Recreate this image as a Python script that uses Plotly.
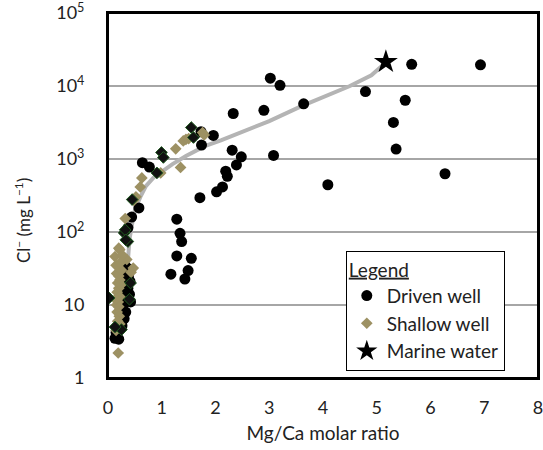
import plotly.graph_objects as go

# Driven well (black circles)
driven_x = [2.33, 2.90, 1.73, 1.96, 1.74, 2.31, 2.48, 3.08, 2.39, 2.19, 2.22, 2.13, 2.02, 1.71,
            1.28, 1.34, 1.37, 1.28, 1.55, 1.17, 1.49, 1.43, 3.02, 3.20, 3.64, 4.79, 5.65, 5.53,
            5.31, 5.36, 4.09, 6.93, 6.27, 0.64, 0.77, 0.575, 0.44, 0.37,
            0.13, 0.20, 0.15, 0.22, 0.26, 0.30, 0.33, 0.28, 0.35, 0.40, 0.37, 0.41, 0.32, 0.38,
            0.30, 0.36, 0.25, 0.42, 0.30, 0.35]
driven_y = [4200, 4650, 2370, 2100, 1550, 1320, 1070, 1120, 830, 680, 580, 415, 355, 295,
            150, 96, 74, 47, 43.6, 26.4, 29.6, 22.7, 12800, 10200, 5700, 8400, 19800, 6380,
            3170, 1370, 444, 19500, 628, 890, 775, 214, 160, 114,
            3.5, 3.4, 4.2, 4.6, 5.2, 6.5, 8, 10, 12, 14, 17, 21, 19, 25,
            28, 32, 16, 11, 36, 22]

# Shallow well (khaki diamonds)
shallow_x = [1.26, 1.35, 1.45, 1.40, 1.76, 0.63, 0.60, 0.52, 0.48, 0.32, 0.20, 0.98, 1.50, 1.79,
             0.22, 0.13, 0.35, 0.47, 0.16, 0.19, 0.15, 0.20, 0.22, 0.18, 0.20, 0.17, 0.22, 0.19,
             0.20, 0.17, 0.21, 0.18, 0.22, 0.16, 0.24, 0.25, 0.15, 0.27, 0.43, 0.14, 0.23]
shallow_y = [1380, 767, 1860, 1770, 2300, 550, 415, 303, 272, 153, 60, 645, 1900, 2140,
             57, 46, 42, 32, 27, 2.2, 4.5, 25, 22, 20, 17, 15, 13, 11,
             9.5, 8, 7, 6, 5.5, 10, 19, 30, 35, 48, 28, 12, 38]

# Dark diamonds (unlabelled)
dark_x = [1.55, 0.995, 1.03, 0.91, 1.59, 0.30, 0.37, 0.45, 0.32, 0.33, 0.02, 0.25, 0.40, 0.42, 0.13]
dark_y = [2700, 1230, 1050, 645, 1970, 97, 74, 278, 107, 78, 12.5, 4.6, 12, 20, 5]

# Marine water
marine_x = [5.17]
marine_y = [21400]

# Mixing curve
curve_x = [0.28, 0.33, 0.37, 0.40, 0.45, 0.50, 0.60, 0.70, 0.85, 1.00, 1.20, 1.45, 1.80, 2.10,
           2.60, 3.00, 3.60, 4.00, 4.50, 4.90, 5.17]
curve_y = [5, 15, 40, 80, 130, 200, 300, 420, 560, 680, 850, 1100, 1500, 1800,
           2500, 3300, 5300, 7000, 10000, 14000, 21000]

ytick_vals = [1, 10, 100, 1000, 10000, 100000]
ytick_text = ["1", "10", "10<sup>2</sup>", "10<sup>3</sup>", "10<sup>4</sup>", "10<sup>5</sup>"]
xtick_vals = [0, 1, 2, 3, 4, 5, 6, 7, 8]

FONT = "Lato, 'Open Sans', sans-serif"

fig = go.Figure()
fig.add_trace(go.Scatter(x=curve_x, y=curve_y, mode="lines", line=dict(color="#b4b4b4", width=4),
                         showlegend=False, hoverinfo="skip"))
fig.add_trace(go.Scatter(x=driven_x, y=driven_y, mode="markers", name="Driven well",
                         marker=dict(symbol="circle", size=11, color="black")))
fig.add_trace(go.Scatter(x=shallow_x, y=shallow_y, mode="markers", name="Shallow well",
                         marker=dict(symbol="diamond", size=9, color="#9d9163")))
fig.add_trace(go.Scatter(x=dark_x, y=dark_y, mode="markers", showlegend=False,
                         marker=dict(symbol="diamond", size=9, color="#111111",
                                     line=dict(color="#1f5a1f", width=1))))
fig.add_trace(go.Scatter(x=marine_x, y=marine_y, mode="markers", name="Marine water",
                         marker=dict(symbol="star", size=18, color="black")))

fig.update_layout(
    width=543, height=450,
    margin=dict(l=108, r=5, t=13, b=72),
    paper_bgcolor="white", plot_bgcolor="white",
    font=dict(family=FONT, size=18, color="#222"),
    legend=dict(
        title=dict(text="<u>Legend</u>", font=dict(size=19)),
        x=0.553, y=0.348, xanchor="left", yanchor="top",
        bordercolor="black", borderwidth=1, bgcolor="white",
        font=dict(size=19), itemsizing="trace", tracegroupgap=0,
    ),
    xaxis=dict(range=[0, 8], tickvals=xtick_vals, showgrid=False, zeroline=False,
               showline=True, linecolor="black", linewidth=2, mirror=True,
               ticks="", ticklabelstandoff=12, automargin=False, ticklabeloverflow="allow",
               tickfont=dict(size=18),
               title=dict(text="Mg/Ca molar ratio", standoff=10, font=dict(size=19))),
    yaxis=dict(type="log", range=[0, 5], tickvals=ytick_vals, ticktext=ytick_text,
               showgrid=True, gridcolor="#a6a6a6", gridwidth=1.5, zeroline=False,
               showline=True, linecolor="black", linewidth=2, mirror=True,
               ticks="", ticklabelstandoff=18, automargin=False, ticklabeloverflow="allow",
               tickfont=dict(size=18)),
    annotations=[dict(text="Cl<sup>−</sup> (mg L<sup>−1</sup>)", xref="paper", yref="paper",
                      x=-0.2, y=0.43, xanchor="center", yanchor="middle", textangle=-90,
                      showarrow=False, font=dict(size=17))],
    shapes=[dict(type="rect", xref="paper", yref="paper", x0=0, y0=0, x1=1, y1=1,
                 line=dict(color="black", width=2), layer="above")],
)

fig.write_html("out.html", config={"displayModeBar": False},
               post_script="document.body.style.margin='0';")
